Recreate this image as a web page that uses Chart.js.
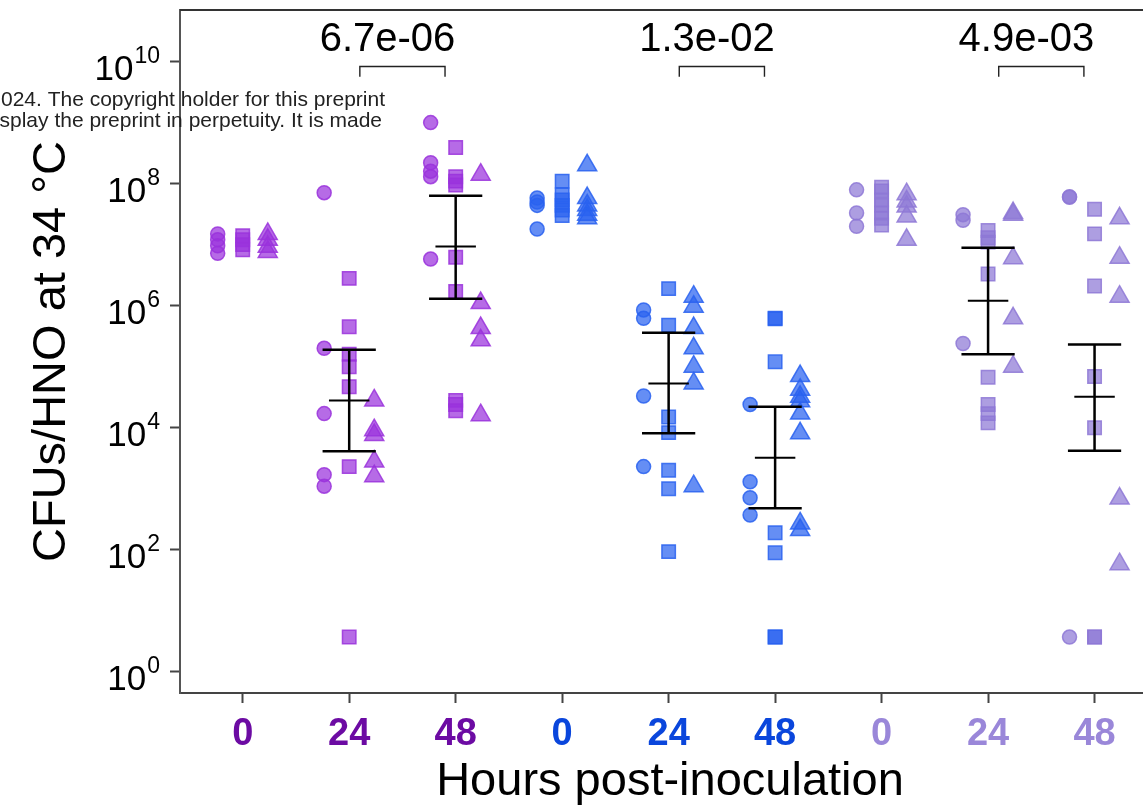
<!DOCTYPE html>
<html>
<head>
<meta charset="utf-8">
<script src="https://cdn.jsdelivr.net/npm/chart.js@4.4.1/dist/chart.umd.min.js"></script>
<style>
html, body { margin: 0; padding: 0; background: #fff; }
#wrap { width: 1143px; height: 810px; }
</style>
</head>
<body>
<div id="wrap"><canvas id="chart" width="1143" height="810"></canvas></div>
<script>
// groups on the x axis and their labels
const groupPos = [0, 1, 2, 3, 4, 5, 6, 7, 8];
const hourLabels = ['0', '24', '48', '0', '24', '48', '0', '24', '48'];
const labelColors = ['#6c0ba3', '#6c0ba3', '#6c0ba3', '#0a46dc', '#0a46dc', '#0a46dc', '#9a87d9', '#9a87d9', '#9a87d9'];
const yTickExponents = [0, 2, 4, 6, 8, 10];

// CFUs/HNO per group, one list per symbol
const circleVals = [
  [1.5e7, 1.2e7, 9.6e6, 7.2e6],
  [7.1e7, 2.0e5, 1.7e4, 1.7e3, 1.1e3],
  [1.0e9, 2.2e8, 1.6e8, 1.3e8, 5.8e6],
  [5.8e7, 5.0e7, 4.4e7, 1.8e7],
  [8.5e5, 6.2e5, 3.3e4, 2.3e3],
  [2.4e4, 1.3e3, 7.1e2, 3.7e2],
  [7.9e7, 3.3e7, 2.0e7],
  [3.1e7, 2.5e7, 2.4e5],
  [6.1e7, 6.0e7, 3.7]
];
const squareVals = [
  [1.4e7, 1.2e7, 1.0e7, 8.2e6],
  [2.8e6, 4.5e5, 1.6e5, 1.0e5, 4.7e4, 2.3e3, 3.7],
  [3.9e8, 1.3e8, 1.1e8, 9.5e7, 6.2e6, 1.7e6, 2.8e4, 2.4e4, 1.9e4],
  [1.1e8, 6.5e7, 5.4e7, 4.4e7, 3.7e7, 3.0e7],
  [1.9e6, 4.8e5, 1.5e4, 8.3e3, 2.0e3, 1.0e3, 93],
  [6.2e5, 6.1e5, 1.2e5, 1.9e2, 89, 3.7, 3.7],
  [8.7e7, 7.6e7, 5.4e7, 4.4e7, 3.3e7, 2.7e7, 2.1e7],
  [1.7e7, 1.3e7, 1.1e7, 3.3e6, 6.7e4, 2.4e4, 1.7e4, 1.2e4],
  [3.8e7, 1.5e7, 2.1e6, 6.9e4, 1.0e4, 3.7, 3.7]
];
const triangleVals = [
  [1.5e7, 1.2e7, 9.2e6, 7.6e6],
  [2.8e4, 9.1e3, 7.6e3, 2.8e3, 1.6e3],
  [1.4e8, 1.1e6, 4.3e5, 2.7e5, 1.6e4],
  [2.0e8, 5.8e7, 4.4e7, 3.7e7, 3.1e7, 2.7e7],
  [1.4e6, 9.6e5, 4.3e5, 2.0e5, 1.0e5, 5.3e4, 1.1e3],
  [7.0e4, 4.2e4, 3.2e4, 2.7e4, 1.7e4, 8.1e3, 2.7e2, 2.1e2],
  [6.7e7, 5.1e7, 4.2e7, 2.9e7, 1.2e7],
  [3.3e7, 3.1e7, 6.0e6, 6.2e5, 1.0e5],
  [2.7e7, 6.1e6, 1.4e6, 6.9e2, 58]
];

// mean and error bar ends (null: none drawn)
const errTop = [null, 1.9e5, 6.3e7, null, 3.6e5, 2.2e4, null, 8.9e6, 2.3e5];
const errMean = [null, 2.8e4, 9.3e6, null, 5.3e4, 3.2e3, null, 1.2e6, 3.2e4];
const errBottom = [null, 4.1e3, 1.3e6, null, 8.1e3, 4.8e2, null, 1.6e5, 4.2e3];

// p value brackets
const pairFrom = [1, 4, 7];
const pairTo = [2, 5, 8];
const pLabels = ['6.7e-06', '1.3e-02', '4.9e-03'];

const fills = ['rgba(154,50,220,0.72)', 'rgba(41,98,240,0.72)', 'rgba(142,120,214,0.72)'];
const borders = ['rgba(154,50,220,0.85)', 'rgba(41,98,240,0.85)', 'rgba(142,120,214,0.85)'];
const FONT = '"Liberation Sans", Arial, Helvetica, sans-serif';

const shapes = [
  { vals: circleVals, style: 'circle', r: 7, dx: -0.235 },
  { vals: squareVals, style: 'rect', r: 9.5, dx: 0 },
  { vals: triangleVals, style: 'triangle', r: 11, dx: 0.235 }
];

const datasets = [];
groupPos.forEach((g, i) => {
  const fam = Math.floor(i / 3);
  shapes.forEach(s => {
    datasets.push({
      data: s.vals[i].map(v => ({ x: g + s.dx, y: v })),
      pointStyle: s.style,
      pointRadius: s.r,
      pointBorderWidth: 1.5,
      backgroundColor: fills[fam],
      borderColor: borders[fam],
      showLine: false
    });
  });
});

const extras = {
  id: 'extras',
  afterDraw(chart) {
    const { ctx, chartArea, scales } = chart;
    const xs = scales.x, ys = scales.y;
    ctx.save();
    // top frame
    ctx.strokeStyle = '#333';
    ctx.lineWidth = 2;
    ctx.beginPath();
    ctx.moveTo(chartArea.left, chartArea.top);
    ctx.lineTo(chartArea.right, chartArea.top);
    ctx.stroke();

    // y tick labels as 10^n
    ctx.fillStyle = '#000';
    ctx.textAlign = 'right';
    ctx.textBaseline = 'alphabetic';
    yTickExponents.forEach(e => {
      const py = ys.getPixelForValue(Math.pow(10, e));
      ctx.font = '23px ' + FONT;
      const sup = String(e);
      const sw = ctx.measureText(sup).width;
      ctx.fillText(sup, 160, py + 1);
      ctx.font = '35px ' + FONT;
      ctx.fillText('10', 160 - sw - 1, py + 18);
    });

    // x axis title
    ctx.textAlign = 'center';
    ctx.font = '47px ' + FONT;
    ctx.fillText('Hours post-inoculation', 670, 795);

    // error bars
    ctx.strokeStyle = '#000';
    groupPos.forEach((g, i) => {
      if (errTop[i] == null) return;
      const t = ys.getPixelForValue(errTop[i]);
      const m = ys.getPixelForValue(errMean[i]);
      const b = ys.getPixelForValue(errBottom[i]);
      const xc = xs.getPixelForValue(g);
      const capL = xs.getPixelForValue(g - 0.25), capR = xs.getPixelForValue(g + 0.25);
      const mL = xs.getPixelForValue(g - 0.19), mR = xs.getPixelForValue(g + 0.19);
      ctx.lineWidth = 2.5;
      ctx.beginPath();
      ctx.moveTo(xc, t); ctx.lineTo(xc, b);
      ctx.moveTo(capL, t); ctx.lineTo(capR, t);
      ctx.moveTo(capL, b); ctx.lineTo(capR, b);
      ctx.stroke();
      ctx.lineWidth = 2;
      ctx.beginPath();
      ctx.moveTo(mL, m); ctx.lineTo(mR, m);
      ctx.stroke();
    });

    // brackets with p values
    ctx.lineWidth = 1.4;
    ctx.strokeStyle = '#222';
    ctx.textAlign = 'center';
    ctx.font = '40px ' + FONT;
    pLabels.forEach((lab, k) => {
      const x1 = xs.getPixelForValue(pairFrom[k] + 0.1);
      const x2 = xs.getPixelForValue(pairTo[k] - 0.1);
      const yb = ys.getPixelForValue(Math.pow(10, 9.92));
      const yt = ys.getPixelForValue(Math.pow(10, 9.75));
      ctx.beginPath();
      ctx.moveTo(x1, yt); ctx.lineTo(x1, yb); ctx.lineTo(x2, yb); ctx.lineTo(x2, yt);
      ctx.stroke();
      const xm = xs.getPixelForValue((pairFrom[k] + pairTo[k]) / 2 - 0.14);
      ctx.fillText(lab, xm, ys.getPixelForValue(Math.pow(10, 10.18)));
    });

    // preprint notice bleeding in from the page
    ctx.fillStyle = '#222';
    ctx.textAlign = 'right';
    ctx.font = '21px ' + FONT;
    ctx.fillText('024. The copyright holder for this preprint', 385, 106);
    ctx.fillText('splay the preprint in perpetuity. It is made', 382, 127);
    ctx.restore();
  }
};

new Chart(document.getElementById('chart'), {
  type: 'scatter',
  data: { datasets: datasets },
  options: {
    responsive: false,
    animation: false,
    devicePixelRatio: 1,
    layout: { autoPadding: false, padding: { top: 10, left: 0, right: 0, bottom: 0 } },
    plugins: { legend: { display: false }, tooltip: { enabled: false } },
    scales: {
      x: {
        type: 'linear',
        min: -0.589,
        max: 8.455,
        afterBuildTicks: s => { s.ticks = groupPos.map(v => ({ value: v })); },
        afterFit: s => { s.height = 117; s.paddingLeft = 0; s.paddingRight = 0; },
        grid: { drawOnChartArea: false, tickLength: 10, tickColor: '#444', tickWidth: 2 },
        border: { display: true, color: '#444', width: 2 },
        ticks: {
          autoSkip: false,
          maxRotation: 0,
          padding: 9,
          font: { family: FONT, size: 38, weight: 'bold' },
          color: c => labelColors[c.index],
          callback: (v, i) => hourLabels[i]
        }
      },
      y: {
        type: 'logarithmic',
        min: 0.448,
        max: 7.01e10,
        afterBuildTicks: s => { s.ticks = yTickExponents.map(e => ({ value: Math.pow(10, e) })); },
        afterFit: s => { s.width = 180; s.paddingTop = 0; s.paddingBottom = 0; },
        grid: { drawOnChartArea: false, tickLength: 10, tickColor: '#444', tickWidth: 2 },
        border: { display: true, color: '#555', width: 2 },
        ticks: { callback: () => '', font: { size: 10 } },
        title: {
          display: true,
          text: 'CFUs/HNO at 34 °C',
          color: '#000',
          font: { family: FONT, size: 47 },
          padding: { top: 24, bottom: 0 }
        }
      }
    }
  },
  plugins: [extras]
});
</script>
</body>
</html>
